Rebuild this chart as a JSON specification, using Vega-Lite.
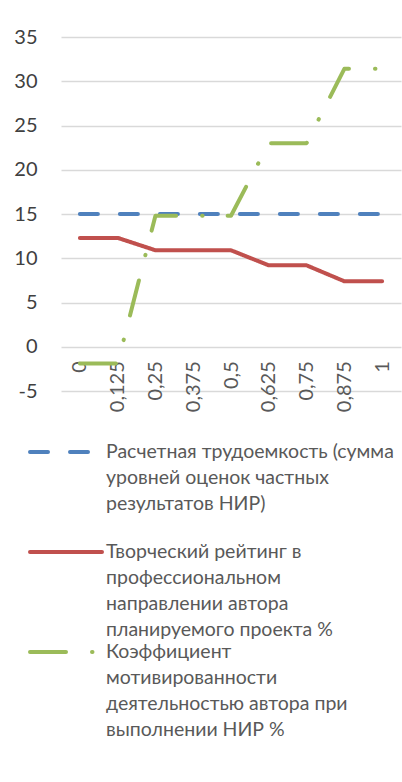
{
  "$schema": "https://vega.github.io/schema/vega-lite/v6.json",
  "width": 340,
  "height": 354,
  "autosize": "none",
  "padding": {"left": 61, "top": 37, "right": 1, "bottom": 391},
  "background": "white",
  "config": {
    "view": {"stroke": null},
    "font": "Lato"
  },
  "data": {
    "values": [
      {"x": 0, "series": "Расчетная трудоемкость (сумма уровней оценок частных результатов НИР)", "value": 15},
      {"x": 0.125, "series": "Расчетная трудоемкость (сумма уровней оценок частных результатов НИР)", "value": 15},
      {"x": 0.25, "series": "Расчетная трудоемкость (сумма уровней оценок частных результатов НИР)", "value": 15},
      {"x": 0.375, "series": "Расчетная трудоемкость (сумма уровней оценок частных результатов НИР)", "value": 15},
      {"x": 0.5, "series": "Расчетная трудоемкость (сумма уровней оценок частных результатов НИР)", "value": 15},
      {"x": 0.625, "series": "Расчетная трудоемкость (сумма уровней оценок частных результатов НИР)", "value": 15},
      {"x": 0.75, "series": "Расчетная трудоемкость (сумма уровней оценок частных результатов НИР)", "value": 15},
      {"x": 0.875, "series": "Расчетная трудоемкость (сумма уровней оценок частных результатов НИР)", "value": 15},
      {"x": 1, "series": "Расчетная трудоемкость (сумма уровней оценок частных результатов НИР)", "value": 15},
      {"x": 0, "series": "Творческий рейтинг в профессиональном направлении автора планируемого проекта %", "value": 12.3},
      {"x": 0.125, "series": "Творческий рейтинг в профессиональном направлении автора планируемого проекта %", "value": 12.3},
      {"x": 0.25, "series": "Творческий рейтинг в профессиональном направлении автора планируемого проекта %", "value": 10.9},
      {"x": 0.375, "series": "Творческий рейтинг в профессиональном направлении автора планируемого проекта %", "value": 10.9},
      {"x": 0.5, "series": "Творческий рейтинг в профессиональном направлении автора планируемого проекта %", "value": 10.9},
      {"x": 0.625, "series": "Творческий рейтинг в профессиональном направлении автора планируемого проекта %", "value": 9.2},
      {"x": 0.75, "series": "Творческий рейтинг в профессиональном направлении автора планируемого проекта %", "value": 9.2},
      {"x": 0.875, "series": "Творческий рейтинг в профессиональном направлении автора планируемого проекта %", "value": 7.4},
      {"x": 1, "series": "Творческий рейтинг в профессиональном направлении автора планируемого проекта %", "value": 7.4},
      {"x": 0, "series": "Коэффициент мотивированности деятельностью автора при выполнении НИР %", "value": -1.9},
      {"x": 0.125, "series": "Коэффициент мотивированности деятельностью автора при выполнении НИР %", "value": -1.9},
      {"x": 0.25, "series": "Коэффициент мотивированности деятельностью автора при выполнении НИР %", "value": 14.8},
      {"x": 0.375, "series": "Коэффициент мотивированности деятельностью автора при выполнении НИР %", "value": 14.8},
      {"x": 0.5, "series": "Коэффициент мотивированности деятельностью автора при выполнении НИР %", "value": 14.8},
      {"x": 0.625, "series": "Коэффициент мотивированности деятельностью автора при выполнении НИР %", "value": 23.0},
      {"x": 0.75, "series": "Коэффициент мотивированности деятельностью автора при выполнении НИР %", "value": 23.0},
      {"x": 0.875, "series": "Коэффициент мотивированности деятельностью автора при выполнении НИР %", "value": 31.4},
      {"x": 1, "series": "Коэффициент мотивированности деятельностью автора при выполнении НИР %", "value": 31.4}
    ]
  },
  "mark": {"type": "line", "strokeWidth": 4, "strokeCap": "round", "strokeJoin": "round"},
  "encoding": {
    "x": {
      "field": "x",
      "type": "ordinal",
      "scale": {"type": "point", "padding": 0.5},
      "axis": {
        "title": null,
        "domain": false,
        "ticks": false,
        "labelAngle": -90,
        "labelAlign": "right",
        "labelBaseline": "middle",
        "labelPadding": 14,
        "labelFontSize": 20,
        "labelColor": "#595959",
        "labelExpr": "replace(datum.label, '.', ',')",
        "offset": -44.25
      }
    },
    "y": {
      "field": "value",
      "type": "quantitative",
      "scale": {"domain": [-5, 35], "nice": false, "zero": false},
      "axis": {
        "title": null,
        "domain": false,
        "ticks": false,
        "values": [-5, 0, 5, 10, 15, 20, 25, 30, 35],
        "labelPadding": 24,
        "labelFontSize": 20,
        "labelColor": "#404040",
        "labelExpr": "replace(datum.label, '\u2212', '-')",
        "gridColor": "#d9d9d9",
        "gridWidth": 1.3
      }
    },
    "color": {
      "field": "series",
      "type": "nominal",
      "scale": {
        "domain": [
          "Расчетная трудоемкость (сумма уровней оценок частных результатов НИР)",
          "Творческий рейтинг в профессиональном направлении автора планируемого проекта %",
          "Коэффициент мотивированности деятельностью автора при выполнении НИР %"
        ],
        "range": ["#4F81BD", "#C0504D", "#9BBB59"]
      },
      "legend": {
        "title": null,
        "orient": "none",
        "legendX": -33,
        "legendY": 405,
        "direction": "vertical",
        "padding": 0,
        "symbolType": "stroke",
        "symbolSize": 5184,
        "symbolStrokeWidth": 4,
        "labelOffset": 2,
        "labelFontSize": 19.5,
        "labelColor": "#595959",
        "labelLimit": 400,
        "labelBaseline": "alphabetic",
        "gridAlign": "all",
        "rowPadding": 2,
        "labelExpr": "datum.label == 'Расчетная трудоемкость (сумма уровней оценок частных результатов НИР)' ? ['Расчетная трудоемкость (сумма', 'уровней оценок частных', 'результатов НИР)'] : datum.label == 'Творческий рейтинг в профессиональном направлении автора планируемого проекта %' ? ['Творческий рейтинг в', 'профессиональном', 'направлении автора', 'планируемого проекта %'] : ['Коэффициент', 'мотивированности', 'деятельностью автора при', 'выполнении НИР %']",
        "encode": {
          "labels": {"update": {"y": {"value": 10}, "dy": {"value": 6}, "lineHeight": {"value": 26}}},
          "symbols": {"update": {"y": {"value": 10}, "strokeCap": {"value": "round"}}}
        }
      }
    },
    "strokeDash": {
      "field": "series",
      "type": "nominal",
      "scale": {
        "domain": [
          "Расчетная трудоемкость (сумма уровней оценок частных результатов НИР)",
          "Творческий рейтинг в профессиональном направлении автора планируемого проекта %",
          "Коэффициент мотивированности деятельностью автора при выполнении НИР %"
        ],
        "range": [[18, 22], [1, 0], [36, 26, 0.5, 25]]
      }
    }
  }
}
